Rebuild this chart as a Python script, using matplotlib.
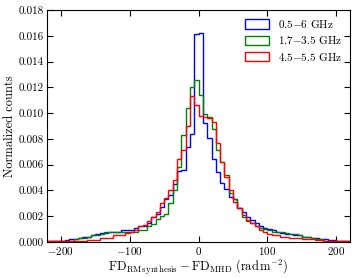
import numpy as np
import matplotlib
matplotlib.use("Agg")
import matplotlib.pyplot as plt

plt.rcParams['font.family'] = 'serif'
plt.rcParams['font.serif'] = ['cmr10', 'DejaVu Serif']
plt.rcParams['mathtext.fontset'] = 'cm'
plt.rcParams['axes.formatter.use_mathtext'] = True

# histogram bins (rad m^-2), width 6.25
bin_width = 6.25
bin_lo, bin_hi = -218.75, 218.75

# normalized counts per bin
blue_05_6 = [
    0.00005, 0.00005, 0.0001, 0.0001, 0.00015, 0.0002, 0.0002, 0.0003, 0.0004, 0.0004,
    0.0005, 0.0006, 0.0007, 0.0007, 0.0008, 0.0008, 0.0008, 0.0009, 0.0009, 0.0009,
    0.0011, 0.0012, 0.0012, 0.0015, 0.0019, 0.0022, 0.0027, 0.0033, 0.0036, 0.0045,
    0.0055, 0.0056, 0.0074, 0.0084, 0.0161, 0.0162, 0.0092, 0.0081, 0.0064, 0.0054,
    0.0046, 0.0041, 0.0035, 0.0033, 0.0026, 0.0023, 0.0019, 0.0017, 0.0015, 0.0012,
    0.0011, 0.0010, 0.0009, 0.0008, 0.0007, 0.0006, 0.0006, 0.0005, 0.0005, 0.0004,
    0.0004, 0.0003, 0.0003, 0.0002, 0.0002, 0.00015, 0.00015, 0.0001, 0.00005, 0.00005,
]
green_17_35 = [
    0.00005, 0.00005, 0.00005, 0.0001, 0.0001, 0.0001, 0.0002, 0.0003, 0.0003, 0.0004,
    0.0005, 0.0005, 0.0006, 0.0008, 0.0008, 0.0008, 0.0008, 0.0008, 0.0008, 0.0008,
    0.0008, 0.0009, 0.0009, 0.0012, 0.0014, 0.0018, 0.0020, 0.0022, 0.0030, 0.0040,
    0.0058, 0.0083, 0.0104, 0.0120, 0.0126, 0.0114, 0.0099, 0.0097, 0.0088, 0.0071,
    0.0062, 0.0052, 0.0038, 0.0033, 0.0026, 0.0019, 0.0016, 0.0015, 0.0012, 0.0011,
    0.0010, 0.0009, 0.0008, 0.0008, 0.0008, 0.0007, 0.0006, 0.0006, 0.0005, 0.0004,
    0.0004, 0.0003, 0.0002, 0.0002, 0.0001, 0.0001, 0.0001, 0.00005, 0.00005, 0.00003,
]
red_45_55 = [
    0.00005, 0.00005, 0.00005, 0.00005, 0.00005, 0.0001, 0.0001, 0.0001, 0.0001, 0.00015,
    0.00015, 0.00015, 0.0003, 0.0003, 0.0003, 0.0005, 0.0005, 0.0005, 0.0007, 0.0008,
    0.0009, 0.0012, 0.0013, 0.0016, 0.0019, 0.0023, 0.0030, 0.0034, 0.0040, 0.0048,
    0.0064, 0.0071, 0.0090, 0.0113, 0.0106, 0.0098, 0.0097, 0.0096, 0.0093, 0.0077,
    0.0062, 0.0050, 0.0040, 0.0031, 0.0026, 0.0021, 0.0017, 0.0015, 0.0012, 0.0009,
    0.0008, 0.0006, 0.0005, 0.0005, 0.0004, 0.0004, 0.0003, 0.0003, 0.0003, 0.0002,
    0.0002, 0.0002, 0.00015, 0.00015, 0.0001, 0.0001, 0.00005, 0.00005, 0.00003, 0.00003,
]

labels = ['0.5$-$6 GHz', '1.7$-$3.5 GHz', '4.5$-$5.5 GHz']
colors = ['blue', 'green', 'red']

edges = np.arange(bin_lo, bin_hi + 0.01, bin_width)
centers = 0.5 * (edges[:-1] + edges[1:])

fig = plt.figure(figsize=(3.54, 2.78), dpi=100)
ax = fig.add_axes([0.133, 0.13, 0.856, 0.834])

for vals, c, lab in zip([blue_05_6, green_17_35, red_45_55], colors, labels):
    ax.hist(centers, bins=edges, weights=vals, histtype='step', color=c, lw=1.0, label=lab)

ax.set_xlim(-220, 220)
ax.set_ylim(0, 0.018)
ax.set_xticks([-200, -100, 0, 100, 200])
ax.set_yticks(np.arange(0, 0.0181, 0.002))
ax.yaxis.set_major_formatter(matplotlib.ticker.FormatStrFormatter('%.3f'))
ax.tick_params(direction='in', top=True, right=True, labelsize=8, length=4, pad=2.5)

ax.set_xlabel(r'$\mathrm{FD}_{\mathrm{RM\,synthesis}} - \mathrm{FD}_{\mathrm{MHD}}\ (\mathrm{rad\,m^{-2}})$', fontsize=9, labelpad=0)
ax.set_ylabel('Normalized counts', fontsize=9, labelpad=2)

ax.legend(loc='upper right', frameon=False, fontsize=8, handlelength=2.2, handleheight=0.9, borderaxespad=0.3, labelspacing=0.4)

fig.savefig('out.png', dpi=100)
